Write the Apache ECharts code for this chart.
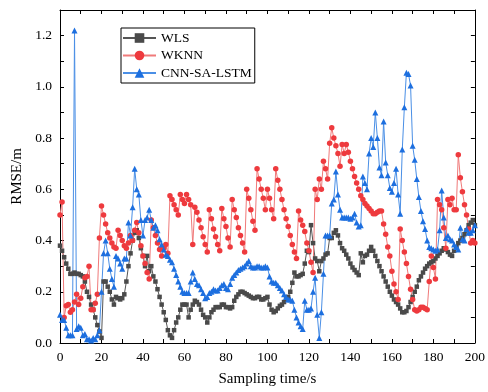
<!DOCTYPE html>
<html>
<head>
<meta charset="utf-8">
<script src="https://cdn.jsdelivr.net/npm/echarts@6/dist/echarts.min.js"></script>
<style>html,body{margin:0;padding:0;background:#fff}#chart{width:488px;height:392px}</style>
</head>
<body>
<div id="chart"></div>
<script>
const times = [0,1,2,3,4,5,6,7,8,9,10,11,12,13,14,15,16,17,18,19,20,21,22,23,24,25,26,27,28,29,30,31,32,33,34,35,36,37,38,39,40,41,42,43,44,45,46,47,48,49,50,51,52,53,54,55,56,57,58,59,60,61,62,63,64,65,66,67,68,69,70,71,72,73,74,75,76,77,78,79,80,81,82,83,84,85,86,87,88,89,90,91,92,93,94,95,96,97,98,99,100,101,102,103,104,105,106,107,108,109,110,111,112,113,114,115,116,117,118,119,120,121,122,123,124,125,126,127,128,129,130,131,132,133,134,135,136,137,138,139,140,141,142,143,144,145,146,147,148,149,150,151,152,153,154,155,156,157,158,159,160,161,162,163,164,165,166,167,168,169,170,171,172,173,174,175,176,177,178,179,180,181,182,183,184,185,186,187,188,189,190,191,192,193,194,195,196,197,198,199,200];

const wls = [0.38,0.36,0.335,0.31,0.29,0.27,0.27,0.275,0.27,0.27,
0.265,0.26,0.24,0.20,0.18,0.15,0.13,0.10,0.07,0.045,
0.02,0.24,0.24,0.22,0.20,0.17,0.15,0.18,0.175,0.17,
0.175,0.19,0.24,0.30,0.35,0.40,0.43,0.44,0.41,0.37,
0.34,0.30,0.34,0.28,0.30,0.26,0.24,0.21,0.18,0.15,
0.12,0.09,0.05,0.03,0.02,0.05,0.08,0.10,0.13,0.15,
0.15,0.15,0.10,0.13,0.15,0.165,0.16,0.15,0.13,0.11,
0.10,0.08,0.10,0.12,0.13,0.14,0.14,0.14,0.15,0.15,
0.14,0.14,0.135,0.14,0.165,0.18,0.19,0.20,0.20,0.195,
0.19,0.185,0.18,0.175,0.175,0.18,0.18,0.17,0.17,0.175,
0.18,0.15,0.13,0.12,0.125,0.135,0.145,0.15,0.16,0.17,
0.18,0.20,0.235,0.275,0.26,0.26,0.265,0.27,0.31,0.36,
0.355,0.46,0.39,0.33,0.32,0.28,0.32,0.33,0.345,0.35,
0.41,0.41,0.43,0.44,0.42,0.39,0.37,0.36,0.345,0.33,
0.31,0.295,0.285,0.275,0.265,0.35,0.315,0.34,0.345,0.36,
0.375,0.36,0.34,0.32,0.30,0.28,0.26,0.24,0.22,0.20,
0.185,0.17,0.16,0.15,0.135,0.12,0.12,0.125,0.14,0.16,
0.18,0.20,0.22,0.245,0.26,0.275,0.29,0.30,0.31,0.315,
0.32,0.33,0.34,0.35,0.36,0.37,0.365,0.355,0.345,0.34,
0.36,0.375,0.39,0.40,0.41,0.425,0.44,0.46,0.47,0.48,
0.46];

const wknn = [0.50,0.55,0.10,0.145,0.15,0.12,0.13,0.16,0.19,0.15,
0.175,0.22,0.255,0.26,0.30,0.13,0.13,0.155,0.19,0.41,
0.535,0.50,0.465,0.43,0.41,0.39,0.375,0.37,0.44,0.42,
0.40,0.38,0.37,0.39,0.42,0.40,0.44,0.47,0.43,0.38,
0.34,0.31,0.275,0.25,0.48,0.45,0.42,0.39,0.365,0.34,
0.37,0.385,0.35,0.575,0.56,0.54,0.52,0.50,0.58,0.56,
0.545,0.58,0.56,0.54,0.385,0.53,0.51,0.48,0.45,0.415,
0.385,0.355,0.52,0.485,0.445,0.415,0.385,0.36,0.525,0.485,
0.455,0.41,0.375,0.56,0.52,0.49,0.45,0.42,0.39,0.355,
0.60,0.565,0.52,0.475,0.44,0.68,0.64,0.60,0.565,0.52,
0.60,0.565,0.52,0.485,0.68,0.635,0.60,0.56,0.52,0.485,
0.455,0.42,0.385,0.355,0.33,0.515,0.48,0.46,0.435,0.39,
0.36,0.315,0.275,0.60,0.56,0.64,0.60,0.71,0.68,0.64,
0.78,0.84,0.80,0.77,0.74,0.69,0.775,0.74,0.775,0.745,
0.71,0.68,0.65,0.625,0.60,0.575,0.56,0.545,0.535,0.525,
0.515,0.505,0.505,0.51,0.515,0.515,0.465,0.425,0.375,0.34,
0.28,0.23,0.20,0.17,0.445,0.40,0.355,0.31,0.26,0.21,
0.17,0.13,0.125,0.13,0.14,0.14,0.135,0.13,0.24,0.34,
0.295,0.25,0.56,0.54,0.52,0.45,0.37,0.56,0.54,0.565,
0.52,0.52,0.735,0.645,0.59,0.54,0.50,0.445,0.39,0.40,
0.39];

const cnnSaLstm = [0.11,0.09,0.09,0.06,0.03,0.03,0.03,1.22,0.055,0.065,
0.06,0.03,0.035,0.015,0.015,0.01,0.02,0.015,0.03,0.05,
0.20,0.35,0.40,0.35,0.29,0.25,0.22,0.34,0.33,0.31,
0.29,0.33,0.33,0.47,0.42,0.53,0.68,0.60,0.58,0.48,
0.42,0.48,0.49,0.52,0.48,0.45,0.46,0.44,0.405,0.385,
0.365,0.345,0.34,0.325,0.315,0.29,0.265,0.24,0.22,0.20,
0.195,0.195,0.195,0.24,0.275,0.25,0.23,0.225,0.21,0.195,
0.175,0.18,0.195,0.20,0.21,0.205,0.205,0.215,0.225,0.23,
0.215,0.21,0.23,0.255,0.265,0.275,0.285,0.29,0.295,0.30,
0.31,0.32,0.30,0.295,0.295,0.30,0.30,0.295,0.295,0.30,
0.295,0.26,0.24,0.235,0.235,0.225,0.215,0.205,0.19,0.18,
0.17,0.17,0.165,0.13,0.10,0.08,0.065,0.055,0.165,0.13,
0.13,0.135,0.20,0.255,0.11,0.02,0.12,0.27,0.42,0.42,
0.42,0.545,0.56,0.67,0.58,0.52,0.49,0.49,0.49,0.49,
0.485,0.49,0.505,0.47,0.455,0.46,0.65,0.625,0.60,0.74,
0.80,0.765,0.90,0.80,0.685,0.655,0.865,0.705,0.655,0.605,
0.59,0.625,0.68,0.58,0.505,0.755,0.92,1.055,1.05,1.005,
0.77,0.715,0.64,0.57,0.515,0.475,0.445,0.40,0.375,0.37,
0.365,0.36,0.365,0.44,0.595,0.49,0.41,0.42,0.405,0.40,
0.385,0.375,0.365,0.45,0.405,0.40,0.445,0.43,0.43,0.44,
0.46];

const seriesNames = ['WLS', 'WKNN', 'CNN-SA-LSTM'];
const xTickLabels = [0,20,40,60,80,100,120,140,160,180,200];

function pairs(vals){ return vals.map((v,i)=>[times[i], v]); }

const font = 'Liberation Serif';
const chart = echarts.init(document.getElementById('chart'), null, {renderer:'canvas'});

const axisLineStyle = {show:true, onZero:false, lineStyle:{color:'#000', width:1}};
const tick = {show:true, inside:true, length:4, lineStyle:{color:'#000', width:1}};

const option = {
  animation:false,
  backgroundColor:'#fff',
  grid:{left:60, right:11, top:10, bottom:48},
  legend:{
    orient:'vertical', left:121, top:28,
    data:seriesNames,
    itemWidth:33, itemHeight:12, itemGap:3.5,
    padding:[3,3,3,1],
    borderColor:'#000', borderWidth:1, backgroundColor:'#fff',
    textStyle:{fontFamily:font, fontSize:13.5, color:'#000'}
  },
  xAxis:[{
    type:'value', min:0, max:200, interval:10, position:'bottom',
    name:'Sampling time/s', nameLocation:'middle', nameGap:29,
    nameTextStyle:{fontFamily:font, fontSize:15, color:'#000'},
    axisLine:axisLineStyle, axisTick:tick, splitLine:{show:false},
    axisLabel:{fontFamily:font, fontSize:13.5, color:'#000', margin:7,
      formatter:v=> xTickLabels.indexOf(Math.round(v))>=0 ? String(Math.round(v)) : ''}
  },{
    type:'value', min:0, max:200, interval:10, position:'top',
    axisLine:axisLineStyle, axisTick:tick, axisLabel:{show:false}, splitLine:{show:false}
  }],
  yAxis:[{
    type:'value', min:0, max:1.3, interval:0.1, position:'left',
    name:'RMSE/m', nameLocation:'middle', nameGap:23,
    nameTextStyle:{fontFamily:font, fontSize:15, color:'#000'},
    axisLine:axisLineStyle, axisTick:tick, splitLine:{show:false},
    axisLabel:{fontFamily:font, fontSize:13.5, color:'#000', margin:8,
      formatter:v=>{const k=Math.round(v*10); return k%2===0 ? (k/10).toFixed(1) : '';}}
  },{
    type:'value', min:0, max:1.3, interval:0.1, position:'right',
    axisLine:axisLineStyle, axisTick:tick, axisLabel:{show:false}, splitLine:{show:false}
  }],
  series:[{
    name:'WLS', type:'line', data:pairs(wls),
    symbol:'rect', symbolSize:4.5, showSymbol:true,
    lineStyle:{color:'#555555', width:1}, itemStyle:{color:'#4a4a4a'}
  },{
    name:'WKNN', type:'line', data:pairs(wknn),
    symbol:'circle', symbolSize:5.5, showSymbol:true,
    lineStyle:{color:'#f07a7a', width:1}, itemStyle:{color:'#ee3a3e'}
  },{
    name:'CNN-SA-LSTM', type:'line', data:pairs(cnnSaLstm),
    symbol:'triangle', symbolSize:6, showSymbol:true,
    lineStyle:{color:'#4a8fe6', width:1}, itemStyle:{color:'#1d6fdf'}
  }]
};
chart.setOption(option);
</script>
</body>
</html>
